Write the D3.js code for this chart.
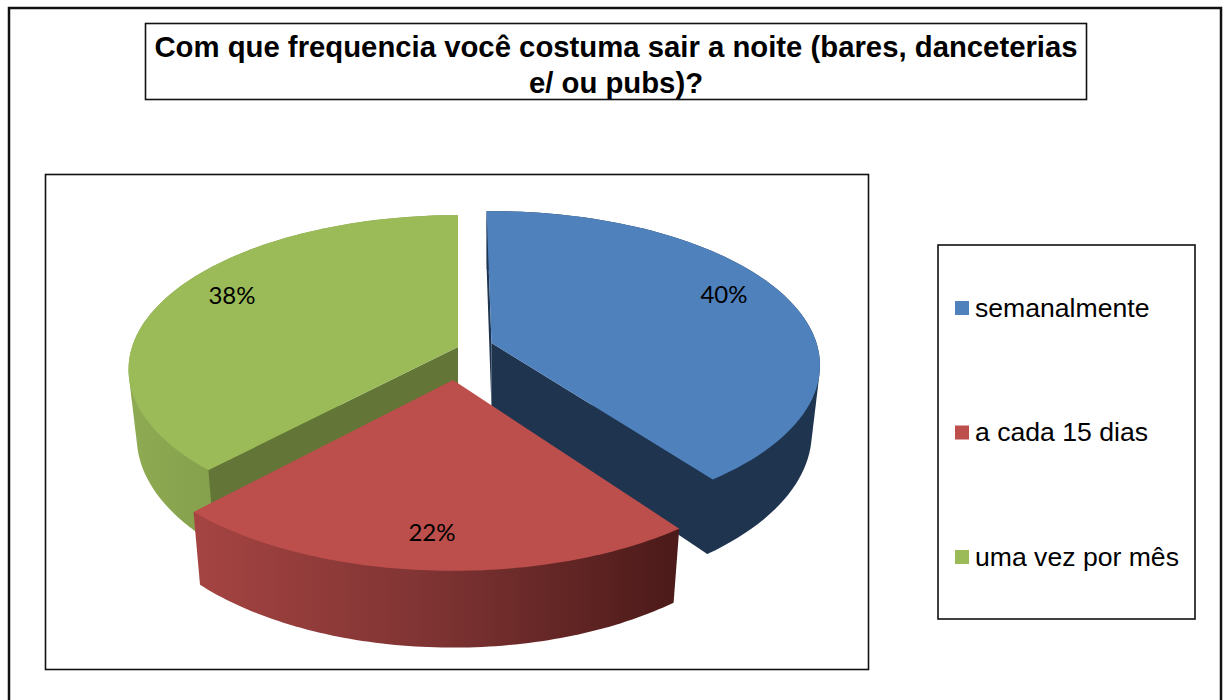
<!DOCTYPE html>
<html>
<head>
<meta charset="utf-8">
<style>
    html, body { margin: 0; padding: 0; background: #fff; overflow: hidden; }
    svg { display: block; }
</style>
</head>
<body>
<script src="https://d3js.org/d3.v7.min.js"></script>
<script>
    // data
    var categories = ["semanalmente", "a cada 15 dias", "uma vez por mês"];
    var percents = [40, 22, 38];
    var titleLines = ["Com que frequencia você costuma sair a noite (bares, danceterias", "e/ ou pubs)?"];

    var width = 1224, height = 700;

    // each exploded slice has its own centre and perspective fit
    var sliceLayout = [
        { cx: 491.5, cy: 343, A: 325, B: 151, d: 6.88, depth: 66, rot: -1, labelX: 724, labelY: 295 },
        { cx: 453, cy: 380, A: 333, B: 159, d: 6, depth: 64, rot: 0, labelX: 432, labelY: 533 },
        { cx: 458, cy: 347, A: 326, B: 151, d: 6.88, depth: 66, rot: 0, labelX: 232, labelY: 296 }
    ];
    var topColors = ["#4f81bd", "#bc4f4c", "#9bbb59"];
    var wallColors = ["#1f344f", "#4b1a19", "#637537"];
    var bottomShrink = 0.975;

    var svg = d3.select("body").append("svg").attr("width", width).attr("height", height);

    var defs = svg.append("defs");
    var gradients = [
        { id: "side0", x1: 490, x2: 820, stops: ["#1f344f", "#1f344f"] },
        { id: "side1", x1: 195, x2: 678, stops: ["#a54442", "#7d3332", "#4b1a19"] },
        { id: "side2", x1: 130, x2: 210, stops: ["#8eaa52", "#86a14c"] }
    ];
    gradients.forEach(function (g) {
        var lg = defs.append("linearGradient").attr("id", g.id)
            .attr("gradientUnits", "userSpaceOnUse")
            .attr("x1", g.x1).attr("x2", g.x2).attr("y1", 0).attr("y2", 0);
        g.stops.forEach(function (c, i) {
            lg.append("stop").attr("offset", i / (g.stops.length - 1)).attr("stop-color", c);
        });
    });

    // frames
    function box(x, y, w, h, sw) {
        svg.append("rect").attr("x", x).attr("y", y).attr("width", w).attr("height", h)
            .attr("fill", "#fff").attr("stroke", "#111").attr("stroke-width", sw);
    }
    box(9, 8, 1212, 720, 2.5);
    box(145.5, 23.5, 941, 76, 1.6);
    box(45.5, 174.5, 823, 495, 1.6);
    box(938, 245, 257, 374, 1.6);

    // title
    svg.selectAll(".title").data(titleLines).join("text")
        .attr("class", "title")
        .attr("x", 616)
        .attr("y", function (d, i) { return 57 + i * 35.5; })
        .attr("text-anchor", "middle")
        .attr("font-family", "'Liberation Sans', Arial, sans-serif")
        .attr("font-weight", "bold")
        .attr("font-size", 29.3)
        .attr("fill", "#000")
        .text(function (d) { return d; });

    // 3d pie
    var arcs = d3.pie().sort(null)(percents);

    function rim(i, angle, low) {
        var p = sliceLayout[i];
        var a = angle + p.rot * Math.PI / 180;
        var X = Math.sin(a), Y = -Math.cos(a);
        var s = p.d / (p.d - Y);
        var x = p.cx + p.A * X * s, y = p.cy + p.B * Y * s;
        if (low) {
            x = p.cx + (x - p.cx) * bottomShrink;
            y = y + p.depth * s;
        }
        return [x, y];
    }
    function rimPoints(i, a0, a1, low) {
        var n = 80;
        return d3.range(n + 1).map(function (k) {
            return rim(i, a0 + (a1 - a0) * k / n, low);
        });
    }
    var line = d3.line();

    // back slices first, the red one sits in front of both
    [2, 0, 1].forEach(function (i) {
        var arc = arcs[i], p = sliceLayout[i];
        var apexTop = [p.cx, p.cy], apexLow = [p.cx, p.cy + p.depth];
        var g = svg.append("g").attr("class", "slice");

        // hull of both rims gives the straight silhouette edge at the widest point
        var hull = d3.polygonHull(rimPoints(i, arc.startAngle, arc.endAngle, false)
            .concat(rimPoints(i, arc.startAngle, arc.endAngle, true)));
        g.append("path")
            .attr("d", line(hull) + "Z")
            .attr("fill", "url(#side" + i + ")");

        // the cut walls of the red slice face away from the viewer
        if (i !== 1) {
            [arc.startAngle, arc.endAngle].forEach(function (a) {
                g.append("path")
                    .attr("d", line([apexTop, rim(i, a, false), rim(i, a, true), apexLow]) + "Z")
                    .attr("fill", wallColors[i]);
            });
        }
        g.append("path")
            .attr("d", line([apexTop].concat(rimPoints(i, arc.startAngle, arc.endAngle, false))) + "Z")
            .attr("fill", topColors[i]);
    });

    // percent labels
    svg.selectAll(".pct").data(percents).join("text")
        .attr("class", "pct")
        .attr("x", function (d, i) { return sliceLayout[i].labelX; })
        .attr("y", function (d, i) { return sliceLayout[i].labelY; })
        .attr("dy", "0.35em")
        .attr("text-anchor", "middle")
        .attr("font-family", "Lato, 'Open Sans', sans-serif")
        .attr("font-size", 24)
        .attr("fill", "#000")
        .text(function (d) { return d + "%"; });

    // legend
    var legendY = d3.scalePoint().domain(categories).range([308, 557]);
    var legend = svg.selectAll(".legend").data(categories).join("g")
        .attr("class", "legend")
        .attr("transform", function (d) { return "translate(955," + legendY(d) + ")"; });
    legend.append("rect")
        .attr("x", 0).attr("y", -7).attr("width", 14).attr("height", 14)
        .attr("fill", function (d, i) { return topColors[i]; });
    legend.append("text")
        .attr("x", 20).attr("y", 8.5)
        .attr("font-family", "'Liberation Sans', Arial, sans-serif")
        .attr("font-size", 26.6)
        .attr("fill", "#000")
        .text(function (d) { return d; });
</script>
</body>
</html>
